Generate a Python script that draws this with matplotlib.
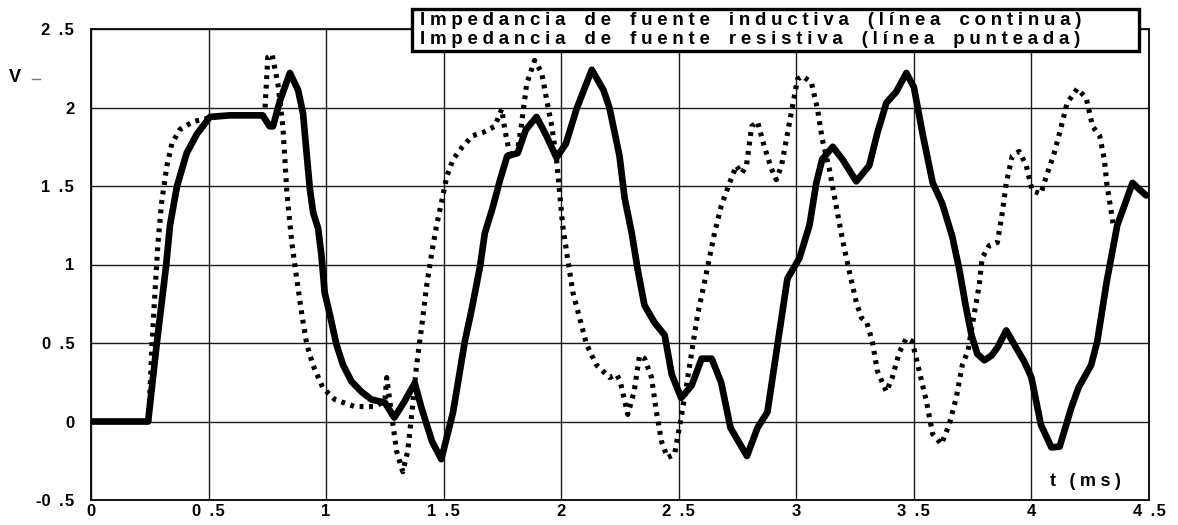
import matplotlib
matplotlib.use("Agg")
import matplotlib.pyplot as plt
from matplotlib.patches import Rectangle

FONT = ["Liberation Sans", "DejaVu Sans"]
GAP = "\u2005"  # four-per-em space used for letter spacing

# Inductive source impedance (solid line): time in ms, voltage in V
t_inductive = [0.0, 0.243, 0.28, 0.32, 0.336, 0.366, 0.407, 0.45, 0.506, 0.59,
               0.73, 0.76, 0.774, 0.803, 0.846, 0.881, 0.902, 0.917, 0.931, 0.945,
               0.966, 0.98, 0.994, 1.016, 1.044, 1.072, 1.108, 1.15, 1.193, 1.25,
               1.29, 1.334, 1.377, 1.405, 1.45, 1.49, 1.54, 1.59, 1.62, 1.655,
               1.675, 1.71, 1.74, 1.77, 1.815, 1.85, 1.895, 1.937, 1.98, 2.02,
               2.065, 2.13, 2.18, 2.205, 2.248, 2.27, 2.30, 2.325, 2.354, 2.397,
               2.44, 2.47, 2.51, 2.555, 2.597, 2.64, 2.68, 2.72, 2.79, 2.835,
               2.877, 2.92, 2.962, 3.013, 3.056, 3.085, 3.11, 3.155, 3.196, 3.255,
               3.31, 3.345, 3.383, 3.425, 3.468, 3.50, 3.536, 3.58, 3.62, 3.663,
               3.693, 3.72, 3.745, 3.77, 3.80, 3.83, 3.855, 3.893, 3.927, 3.97,
               4.0, 4.04, 4.085, 4.12, 4.17, 4.2, 4.254, 4.28, 4.32, 4.365,
               4.394, 4.43, 4.458, 4.488]
v_inductive = [0.0, 0.0, 0.5, 1.0, 1.25, 1.5, 1.71, 1.83, 1.94, 1.95,
               1.95, 1.88, 1.88, 2.04, 2.22, 2.11, 1.96, 1.71, 1.48, 1.33,
               1.23, 1.06, 0.82, 0.68, 0.49, 0.36, 0.255, 0.19, 0.14, 0.12,
               0.025, 0.13, 0.245, 0.09, -0.125, -0.24, 0.06, 0.51, 0.72, 0.99,
               1.2, 1.37, 1.54, 1.69, 1.71, 1.86, 1.94, 1.82, 1.68, 1.77,
               1.99, 2.24, 2.11, 2.0, 1.69, 1.42, 1.2, 0.97, 0.74, 0.63,
               0.55, 0.30, 0.15, 0.23, 0.40, 0.40, 0.25, -0.04, -0.22, -0.04,
               0.06, 0.49, 0.91, 1.04, 1.25, 1.52, 1.67, 1.75, 1.67, 1.53,
               1.63, 1.84, 2.03, 2.1, 2.22, 2.13, 1.84, 1.52, 1.39, 1.18,
               0.97, 0.74, 0.55, 0.43, 0.39, 0.42, 0.47, 0.58, 0.49, 0.38,
               0.28, -0.02, -0.165, -0.16, 0.09, 0.215, 0.36, 0.51, 0.89, 1.25,
               1.37, 1.52, 1.48, 1.44]

# Resistive source impedance (dotted line)
t_resistive = [0.0, 0.245, 0.26, 0.272, 0.285, 0.30, 0.323, 0.344, 0.378, 0.434,
               0.52, 0.60, 0.73, 0.74, 0.752, 0.77, 0.795, 0.816, 0.833, 0.854,
               0.875, 0.897, 0.918, 0.944, 0.986, 1.037, 1.122, 1.207, 1.25, 1.258,
               1.28, 1.30, 1.326, 1.347, 1.364, 1.385, 1.407, 1.428, 1.45, 1.47,
               1.49, 1.513, 1.54, 1.58, 1.623, 1.666, 1.717, 1.747, 1.76, 1.78,
               1.81, 1.83, 1.853, 1.887, 1.917, 1.938, 1.96, 1.98, 1.993, 2.006,
               2.027, 2.05, 2.078, 2.108, 2.15, 2.206, 2.235, 2.25, 2.283, 2.31,
               2.333, 2.355, 2.384, 2.405, 2.427, 2.452, 2.482, 2.51, 2.533, 2.56,
               2.58, 2.61, 2.63, 2.652, 2.68, 2.716, 2.745, 2.767, 2.788, 2.81,
               2.835, 2.864, 2.894, 2.915, 2.937, 2.958, 2.983, 3.005, 3.026, 3.064,
               3.09, 3.11, 3.14, 3.17, 3.196, 3.226, 3.255, 3.277, 3.30, 3.323,
               3.345, 3.383, 3.408, 3.438, 3.468, 3.493, 3.523, 3.553, 3.58, 3.617,
               3.65, 3.68, 3.706, 3.73, 3.748, 3.778, 3.79, 3.82, 3.855, 3.876,
               3.893, 3.918, 3.948, 3.978, 4.003, 4.04, 4.063, 4.097, 4.127, 4.152,
               4.195, 4.233, 4.26, 4.29, 4.31, 4.32, 4.34, 4.35]
v_resistive = [0.0, 0.0, 0.51, 0.82, 1.14, 1.39, 1.63, 1.77, 1.86, 1.91,
               1.94, 1.95, 1.95, 1.99, 2.32, 2.34, 2.15, 1.88, 1.46, 1.14,
               0.91, 0.68, 0.49, 0.36, 0.215, 0.14, 0.095, 0.095, 0.13, 0.28,
               0.025, -0.19, -0.32, -0.19, 0.045, 0.36, 0.61, 0.87, 1.08, 1.25,
               1.39, 1.56, 1.67, 1.75, 1.82, 1.84, 1.88, 1.99, 1.86, 1.71,
               1.69, 1.88, 2.15, 2.30, 2.22, 2.05, 1.88, 1.67, 1.46, 1.25,
               1.04, 0.82, 0.66, 0.49, 0.36, 0.28, 0.30, 0.26, 0.045, 0.19,
               0.42, 0.40, 0.28, 0.06, -0.13, -0.23, -0.21, 0.025, 0.23, 0.49,
               0.68, 0.89, 1.04, 1.2, 1.37, 1.52, 1.63, 1.58, 1.63, 1.88,
               1.91, 1.75, 1.61, 1.54, 1.63, 1.80, 2.0, 2.18, 2.2, 2.16,
               1.99, 1.80, 1.61, 1.37, 1.16, 0.95, 0.76, 0.66, 0.63, 0.51,
               0.32, 0.19, 0.28, 0.44, 0.53, 0.51, 0.32, 0.13, -0.08, -0.145,
               -0.02, 0.15, 0.36, 0.45, 0.61, 0.87, 1.04, 1.12, 1.14, 1.33,
               1.52, 1.69, 1.72, 1.63, 1.47, 1.45, 1.56, 1.71, 1.88, 2.03,
               2.12, 2.06, 1.88, 1.82, 1.67, 1.52, 1.33, 1.23]

x_ticks = [0, 0.5, 1, 1.5, 2, 2.5, 3, 3.5, 4, 4.5]
x_tick_labels = ["0", "0.5", "1", "1.5", "2", "2.5", "3", "3.5", "4", "4.5"]
y_ticks = [-0.5, 0, 0.5, 1, 1.5, 2, 2.5]
y_tick_labels = ["-0.5", "0", "0.5", "1", "1.5", "2", "2.5"]

legend_lines = ["Impedancia de fuente inductiva (línea continua)",
                "Impedancia de fuente resistiva (línea punteada)"]
y_label = "V"
x_label = "t (ms)"


def spaced(text, word_gap=4):
    """Letter-spaced rendering of a label."""
    words = text.split(" ")
    return (GAP * word_gap).join(GAP.join(w) for w in words)


def tick_text(s):
    """Number label with the wide gap before the decimal point."""
    return s.replace(".", "\u2002.\u200a")


fig = plt.figure(figsize=(11.78, 5.25), dpi=100)
ax = fig.add_axes([91 / 1178, 1 - 500 / 525, 1058 / 1178, 471 / 525])

ax.plot(t_inductive, v_inductive, color="black", lw=4.8,
        solid_joinstyle="round", solid_capstyle="round", zorder=3)
ax.plot(t_resistive, v_resistive, color="black", lw=3.7,
        linestyle=(0, (0.75, 1.1)), dash_capstyle="butt", zorder=3)

ax.set_xlim(0, 4.5)
ax.set_ylim(-0.5, 2.5)
ax.set_xticks(x_ticks)
ax.set_xticklabels([tick_text(s) for s in x_tick_labels])
ax.set_yticks(y_ticks)
ax.set_yticklabels([tick_text(s) for s in y_tick_labels])
ax.tick_params(length=0, labelsize=12)
ax.tick_params(axis="y", pad=12)
ax.tick_params(axis="x", pad=3)
for lab in ax.get_xticklabels() + ax.get_yticklabels():
    lab.set_fontfamily(FONT)
    lab.set_fontweight("bold")

ax.grid(True, color="#1a1a1a", lw=1.0)
ax.set_axisbelow(True)
for sp in ax.spines.values():
    sp.set_linewidth(1.4)
    sp.set_color("#111111")

# Axis names
fig.text(9 / 1178, 1 - 78 / 525, y_label, fontsize=13, fontweight="bold",
         family=FONT, va="center", ha="left")
fig.add_artist(plt.Line2D([32 / 1178, 40 / 1178], [1 - 79 / 525] * 2,
                          color="#777777", lw=1.0))
fig.text(1085 / 1178, 1 - 481 / 525, spaced(x_label, 3), fontsize=13,
         fontweight="bold", family=FONT, va="center", ha="center")

# Legend box with the two descriptions
box_x0, box_x1 = 412 / 1178, 1139 / 1178
box_y0, box_y1 = 1 - 51 / 525, 1 - 9 / 525
fig.add_artist(Rectangle((box_x0, box_y0), box_x1 - box_x0, box_y1 - box_y0,
                         transform=fig.transFigure, facecolor="white",
                         edgecolor="black", lw=2.4, zorder=5))
for i, line in enumerate(legend_lines):
    fig.text(420 / 1178, 1 - (20.5 + 19.5 * i) / 525, spaced(line), fontsize=13.5,
             fontweight="bold", family=FONT, va="center", ha="left", zorder=6)

fig.savefig("out.png", dpi=100)
